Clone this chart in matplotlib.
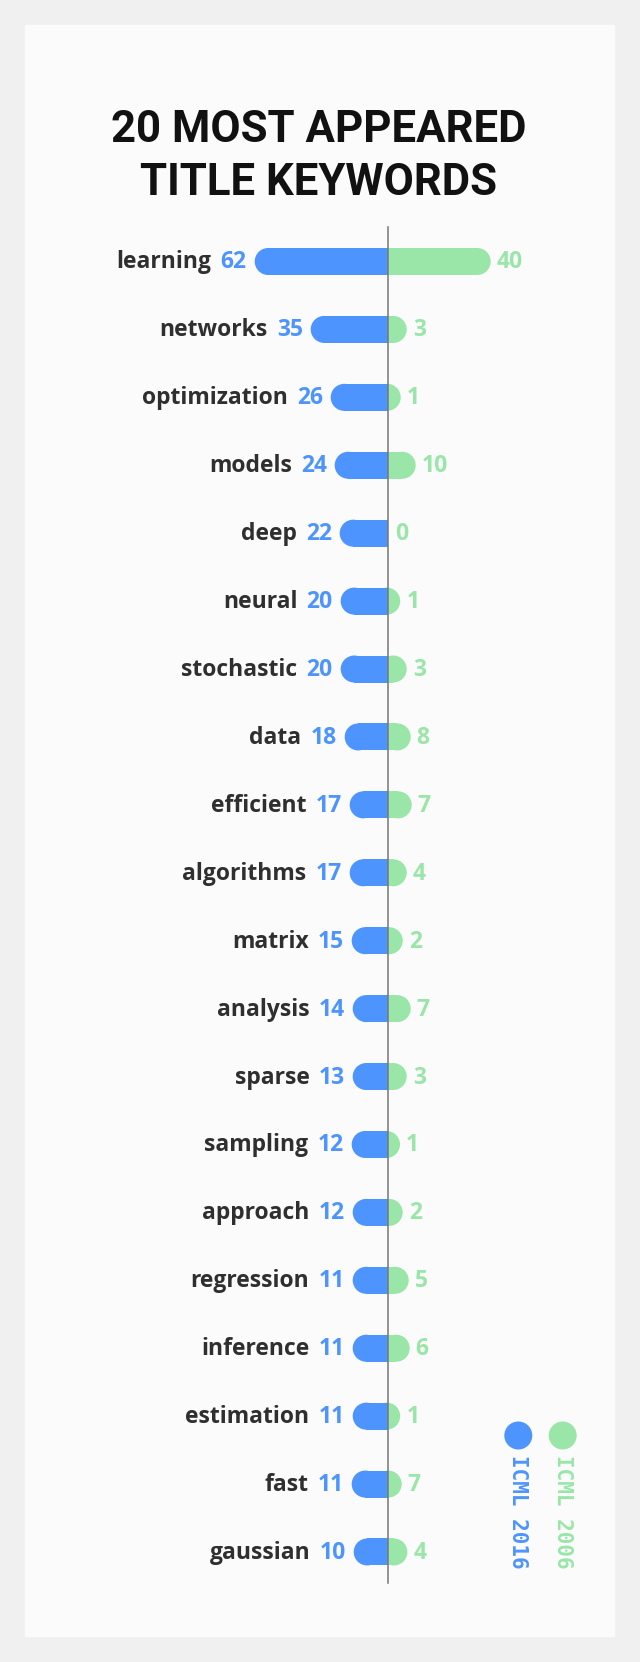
import matplotlib
matplotlib.use('Agg')
import matplotlib.pyplot as plt
from matplotlib.patches import Rectangle, Circle

# keywords and counts (labels as printed)
keywords = ['learning', 'networks', 'optimization', 'models', 'deep', 'neural',
            'stochastic', 'data', 'efficient', 'algorithms', 'matrix', 'analysis',
            'sparse', 'sampling', 'approach', 'regression', 'inference',
            'estimation', 'fast', 'gaussian']
count_2016 = [62, 35, 26, 24, 22, 20, 20, 18, 17, 17, 15, 14, 13, 12, 12, 11, 11, 11, 11, 10]
count_2006 = [40, 3, 1, 10, 0, 1, 3, 8, 7, 4, 2, 7, 3, 1, 2, 5, 6, 1, 7, 4]

# bar lengths as drawn in the picture (the original does not scale them linearly)
bar_2016 = [133, 77, 57, 53, 48, 47, 47, 43, 38, 38, 36, 35, 35, 36, 35, 35, 35, 35, 36, 34]
bar_2006 = [103, 19, 13, 28, 0, 12.5, 19, 23, 24, 19, 15, 23, 19, 12.3, 15, 21, 22, 12.5, 14, 19.7]

series_names = ['ICML 2016', 'ICML 2006']

BLUE = '#4d94ff'
GREEN = '#99e6a8'
DARK = '#2f2f2f'

W, H = 640, 1662
fig = plt.figure(figsize=(W / 100, H / 100), dpi=100, facecolor='#f0f0f0')
ax = fig.add_axes([0, 0, 1, 1])
ax.set_xlim(0, W)
ax.set_ylim(H, 0)
ax.axis('off')

ax.add_patch(Rectangle((25, 25), 589, 1611, color='#fbfbfb', zorder=0))

title_font = ['Roboto', 'DejaVu Sans']
ax.text(319, 142, '20 MOST APPEARED', ha='center', va='baseline', fontsize=31.5,
        fontweight='bold', family=title_font, color='#111111')
ax.text(319, 195, 'TITLE KEYWORDS', ha='center', va='baseline', fontsize=31.5,
        fontweight='bold', family=title_font, color='#111111')

center = 387.7
row0, step = 261.5, 67.92
r = 13.5
label_font = ['Open Sans', 'DejaVu Sans']

for i, kw in enumerate(keywords):
    y = row0 + i * step
    lb, lg = bar_2016[i], bar_2006[i]

    # 2006 bar (right, rounded end)
    if lg > 0:
        ax.add_patch(Circle((center + lg - r, y), r, color=GREEN, lw=0, zorder=2))
        if lg > r:
            ax.add_patch(Rectangle((center, y - r), lg - r, 2 * r, color=GREEN, lw=0, zorder=2))
    # 2016 bar (left, rounded end)
    ax.add_patch(Circle((center - lb + r, y), r, color=BLUE, lw=0, zorder=3))
    ax.add_patch(Rectangle((center - lb + r, y - r), lb - r, 2 * r, color=BLUE, lw=0, zorder=3))

    gx = center + (lg if lg > 0 else 1) + 6
    ax.text(gx, y + 7, str(count_2006[i]), ha='left', va='baseline', fontsize=16.5,
            fontweight='bold', family=label_font, color=GREEN)
    num = ax.text(center - lb - 8, y + 7, str(count_2016[i]), ha='right', va='baseline',
                  fontsize=16.5, fontweight='bold', family=label_font, color=BLUE)
    ax.annotate(kw, xy=(0, 0), xycoords=num, xytext=(-6.5, 0), textcoords='offset points',
                ha='right', va='bottom', fontsize=16.5, fontweight='bold',
                family=label_font, color=DARK)

ax.plot([center, center], [226.5, 1582.5], color='#777777', lw=1.1, zorder=4)

# legend
for name, col, lx in zip(series_names, [BLUE, GREEN], [518.3, 562.7]):
    ax.add_patch(Circle((lx, 1435.5), 14, color=col, lw=0, zorder=2))
    ax.text(lx, 1455, name, rotation=270, ha='center', va='top', fontsize=15,
            fontweight='bold', family=['DejaVu Sans Mono'], color=col)

fig.savefig('out.png', dpi=100, facecolor=fig.get_facecolor())
